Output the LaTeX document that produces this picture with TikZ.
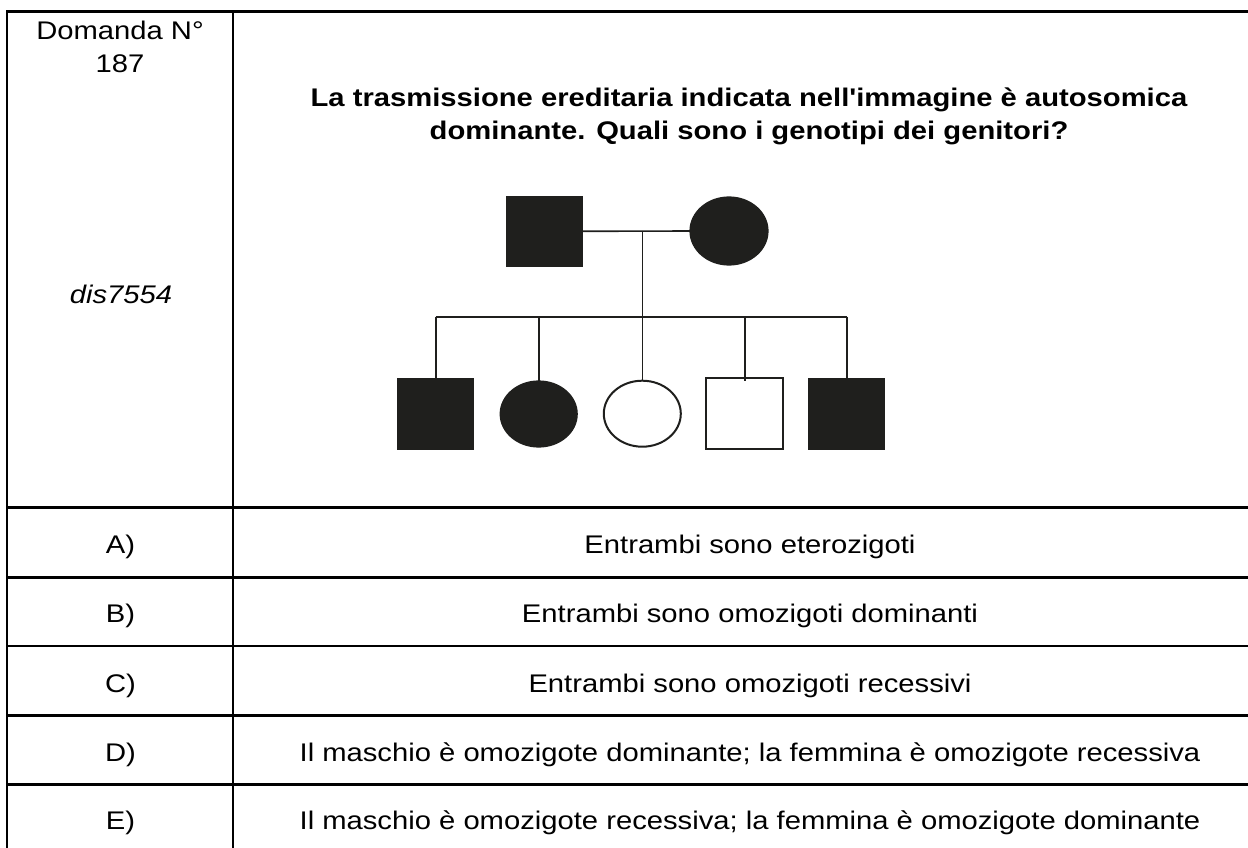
\documentclass[tikz,border=0pt]{standalone}
\usepackage{fontspec}
\setmainfont[FakeStretch=1.145, Ligatures=TeXOff]{Liberation Sans}
\usetikzlibrary{shapes.geometric}
\definecolor{pedfill}{HTML}{1F1F1D}
\tikzset{
  grid/.style={line width=2.7pt, line cap=rect},
  txt/.style={anchor=base, inner sep=0pt, font=\fontsize{25.5}{32.7}\selectfont},
  ttl/.style={anchor=base, inner sep=0pt, font=\fontsize{25.5}{32.7}\selectfont\bfseries},
  male/.style={rectangle, minimum width=76pt, minimum height=70pt, inner sep=0pt, outer sep=0pt, draw=pedfill, line width=1.2pt},
  female/.style={ellipse, minimum width=77pt, minimum height=66pt, inner sep=0pt, outer sep=0pt, draw=pedfill, line width=1.2pt},
  aff/.style={fill=pedfill},
  unaff/.style={fill=white, line width=2pt},
  pline/.style={line width=1.6pt, draw=pedfill}
}
\begin{document}
\begin{tikzpicture}[x=1pt,y=-1pt]
\useasboundingbox (0,0) rectangle (1248,848);
% table grid
\draw[grid] (1260,11.7) -- (7,11.7) -- (7,860);
\draw[grid] (233,11.7) -- (233,860);
\foreach \yy in {507.3,577.3,646,715.7,784.3}{
  \draw[grid] (7,\yy) -- (1260,\yy);
}
% left column
\node[txt] (num1) at (120,40) {Domanda N°};
\node[txt] (num2) at (120,72.7) {187};
\node[txt, font=\fontsize{25.5}{32.7}\selectfont\itshape] (code) at (121,303.3) {dis7554};
% question
\node[ttl] (q1) at (749,106.7) {La trasmissione ereditaria indicata nell'immagine è autosomica};
\node[ttl] (q2) at (749,140) {dominante. Quali sono i genotipi dei genitori?};
% answers
\node[txt] (la) at (120.5,553) {A)};
\node[txt] (ta) at (750,553) {Entrambi sono eterozigoti};
\node[txt] (lb) at (120.5,622) {B)};
\node[txt] (tb) at (750,622) {Entrambi sono omozigoti dominanti};
\node[txt] (lc) at (120.5,692) {C)};
\node[txt] (tc) at (750,692) {Entrambi sono omozigoti recessivi};
\node[txt] (ld) at (120.5,761) {D)};
\node[txt] (td) at (750,761) {Il maschio è omozigote dominante; la femmina è omozigote recessiva};
\node[txt] (le) at (120.5,829) {E)};
\node[txt] (te) at (750,829) {Il maschio è omozigote recessiva; la femmina è omozigote dominante};
% pedigree
\node[male, aff] (father) at (544.7,231.3) {};
\node[female, aff, minimum width=78pt, minimum height=68pt] (mother) at (729,231) {};
\coordinate (mate) at (642.3,231);
\coordinate (sib) at (642.3,316.7);
\coordinate (sibL) at (435.7,316.7);
\coordinate (sibR) at (846.7,316.7);
\node[male, aff] (c1) at (435.7,414) {};
\node[female, aff] (c2) at (538.7,414) {};
\node[female, unaff] (c3) at (642.3,413.7) {};
\node[male, unaff, minimum width=77pt, minimum height=71pt] (c4) at (744.7,413.8) {};
\node[male, aff] (c5) at (846.7,414) {};
\draw[pline] (father.east) -- (mother.west);
\draw[pline] (mate) -- (sib);
\draw[pline] (sibL) -- (sibR);
\draw[pline] (sibL) -- (c1.north);
\draw[pline] (sibL -| c2) -- (c2.north);
\draw[pline] (sib) -- (c3.north);
\draw[pline] (sibL -| c4) -- ([yshift=-3pt]c4.north);
\draw[pline] (sibR) -- (c5.north);
\end{tikzpicture}
\end{document}
